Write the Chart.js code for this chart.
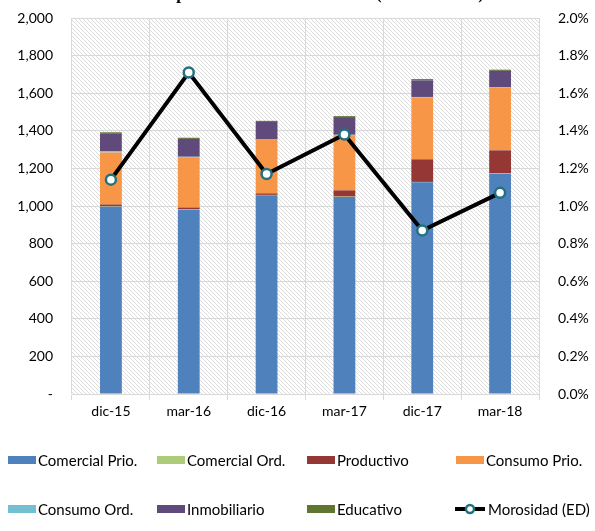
<!DOCTYPE html>
<html lang="es">
<head>
<meta charset="UTF-8">
<title>Cartera y morosidad</title>
<script src="https://cdn.jsdelivr.net/npm/chart.js"></script>
<style>
  html, body { margin: 0; padding: 0; background: #fff; }
  #wrap { position: relative; width: 595px; height: 531px; overflow: hidden; }
  #legend { position: absolute; left: 0; top: 0; width: 595px; height: 531px; pointer-events: none;
            font-family: Lato, "Open Sans", sans-serif; font-size: 15px; color: #000; }
  .item { position: absolute; display: flex; align-items: center; white-space: nowrap; }
  .box { width: 28px; height: 8px; margin-right: 2px; }
</style>
</head>
<body>
<div id="wrap">
  <canvas id="myChart" width="595" height="531"></canvas>
  <div id="legend"></div>
</div>
<script>
  const periods = ['dic-15', 'mar-16', 'dic-16', 'mar-17', 'dic-17', 'mar-18'];

  // saldos de cartera (millones)
  const comercialPrio = [996, 982, 1057, 1048, 1126, 1172];
  const comercialOrd  = [2, 2, 2, 2, 2, 2];
  const productivo    = [10, 8, 8, 33, 120, 122];
  const consumoPrio   = [277, 267, 284, 293, 328, 333];
  const consumoOrd    = [6, 3, 3, 3, 4, 3];
  const inmobiliario  = [96, 95, 93, 94, 88, 87];
  const educativo     = [5, 6, 6, 5, 7, 6];

  // morosidad en %
  const morosidad = [1.14, 1.71, 1.17, 1.38, 0.87, 1.07];

  const leftTicks = [0, 200, 400, 600, 800, 1000, 1200, 1400, 1600, 1800, 2000];

  const font = { family: 'Lato, "Open Sans", sans-serif', size: 14 };

  const barSeries = [
    { label: 'Comercial Prio.', data: comercialPrio, color: '#4f81bd' },
    { label: 'Comercial Ord.',  data: comercialOrd,  color: '#aecb7a' },
    { label: 'Productivo',      data: productivo,    color: '#953735' },
    { label: 'Consumo Prio.',   data: consumoPrio,   color: '#f79646' },
    { label: 'Consumo Ord.',    data: consumoOrd,    color: '#72c0d2' },
    { label: 'Inmobiliario',    data: inmobiliario,  color: '#604a7b' },
    { label: 'Educativo',       data: educativo,     color: '#5f7530' }
  ];

  const datasets = barSeries.map(s => ({
    type: 'bar',
    label: s.label,
    data: s.data,
    backgroundColor: s.color,
    yAxisID: 'y',
    stack: 'cartera',
    categoryPercentage: 1,
    barPercentage: 0.28,
    order: 2
  }));

  datasets.push({
    type: 'line',
    label: 'Morosidad (ED)',
    data: morosidad,
    yAxisID: 'y1',
    borderColor: '#000',
    borderWidth: 4,
    pointRadius: 5,
    pointBorderWidth: 2.5,
    pointBackgroundColor: '#fff',
    pointBorderColor: '#23707f',
    tension: 0,
    order: 1
  });

  // fondo rayado del area de grafico
  const hatch = (() => {
    const c = document.createElement('canvas');
    c.width = 4; c.height = 4;
    const g = c.getContext('2d');
    g.strokeStyle = '#dcdcdc';
    g.lineWidth = 1;
    g.beginPath();
    g.moveTo(-1, -1); g.lineTo(5, 5);
    g.moveTo(-1, 3); g.lineTo(1, 5);
    g.moveTo(3, -1); g.lineTo(5, 1);
    g.stroke();
    return c;
  })();

  const bgPlugin = {
    id: 'hatchBg',
    beforeDraw(chart) {
      const { ctx, chartArea: a } = chart;
      ctx.save();
      ctx.fillStyle = '#fff';
      ctx.fillRect(0, 0, chart.width, chart.height);
      ctx.fillStyle = ctx.createPattern(hatch, 'repeat');
      ctx.fillRect(a.left, a.top, a.right - a.left, a.bottom - a.top);
      ctx.restore();
    }
  };

  // titulo recortado en el borde superior
  const titlePlugin = {
    id: 'cutTitle',
    afterDraw(chart) {
      const ctx = chart.ctx;
      ctx.save();
      ctx.font = 'bold 17px "Liberation Serif", serif';
      ctx.fillStyle = '#000';
      ctx.textAlign = 'right';
      ctx.textBaseline = 'alphabetic';
      ctx.fillText('Cartera por destino de crédito total (en MM de Bs)', 484, -1);
      ctx.restore();
    }
  };

  const noPad = s => { s.paddingTop = 0; s.paddingBottom = 0; };

  const ctx = document.getElementById('myChart').getContext('2d');
  new Chart(ctx, {
    data: { labels: periods, datasets },
    options: {
      responsive: false,
      animation: false,
      layout: { padding: { top: 18, left: 0, right: 0, bottom: 0 } },
      plugins: { legend: { display: false }, tooltip: { enabled: false } },
      scales: {
        x: {
          stacked: true,
          offset: true,
          grid: { offset: true, color: '#d9d9d9', lineWidth: 1, drawTicks: true, tickLength: 6 },
          border: { color: '#d9d9d9' },
          ticks: { font, color: '#000', padding: 3 },
          afterFit: s => { s.height = 137; }
        },
        y: {
          stacked: true,
          position: 'left',
          min: 0, max: 2000,
          afterBuildTicks: s => { s.ticks = leftTicks.map(v => ({ value: v })); },
          grid: { color: '#d9d9d9', drawTicks: false },
          border: { display: false },
          ticks: {
            font, color: '#000', padding: 19,
            callback: v => v === 0 ? '-' : v.toLocaleString('en-US')
          },
          afterFit: s => { s.width = 72; noPad(s); }
        },
        y1: {
          position: 'right',
          min: 0, max: 2,
          grid: { display: false },
          border: { display: false },
          ticks: { font, color: '#000', padding: 11, stepSize: 0.2,
                   callback: v => v.toFixed(1) + '%' },
          afterFit: s => { s.width = 56; noPad(s); }
        }
      }
    },
    plugins: [bgPlugin, titlePlugin]
  });

  // leyenda
  const legendPos = [
    [8, 460], [157, 460], [307, 460], [456, 460],
    [8, 509], [157, 509], [307, 509], [454, 509]
  ];
  const legend = document.getElementById('legend');
  barSeries.forEach((s, i) => {
    const el = document.createElement('div');
    el.className = 'item';
    el.style.left = legendPos[i][0] + 'px';
    el.style.top = (legendPos[i][1] - 9) + 'px';
    el.innerHTML = '<span class="box" style="background:' + s.color + '"></span>' + s.label;
    legend.appendChild(el);
  });
  const lineItem = document.createElement('div');
  lineItem.className = 'item';
  lineItem.style.left = legendPos[7][0] + 'px';
  lineItem.style.top = (legendPos[7][1] - 9) + 'px';
  lineItem.innerHTML =
    '<svg width="32" height="12" style="margin-right:2px"><line x1="1" y1="6" x2="31" y2="6" stroke="#000" stroke-width="4"/>' +
    '<circle cx="16" cy="6" r="4" fill="#fff" stroke="#23707f" stroke-width="2.5"/></svg>' + datasets[7].label;
  legend.appendChild(lineItem);
</script>
</body>
</html>
